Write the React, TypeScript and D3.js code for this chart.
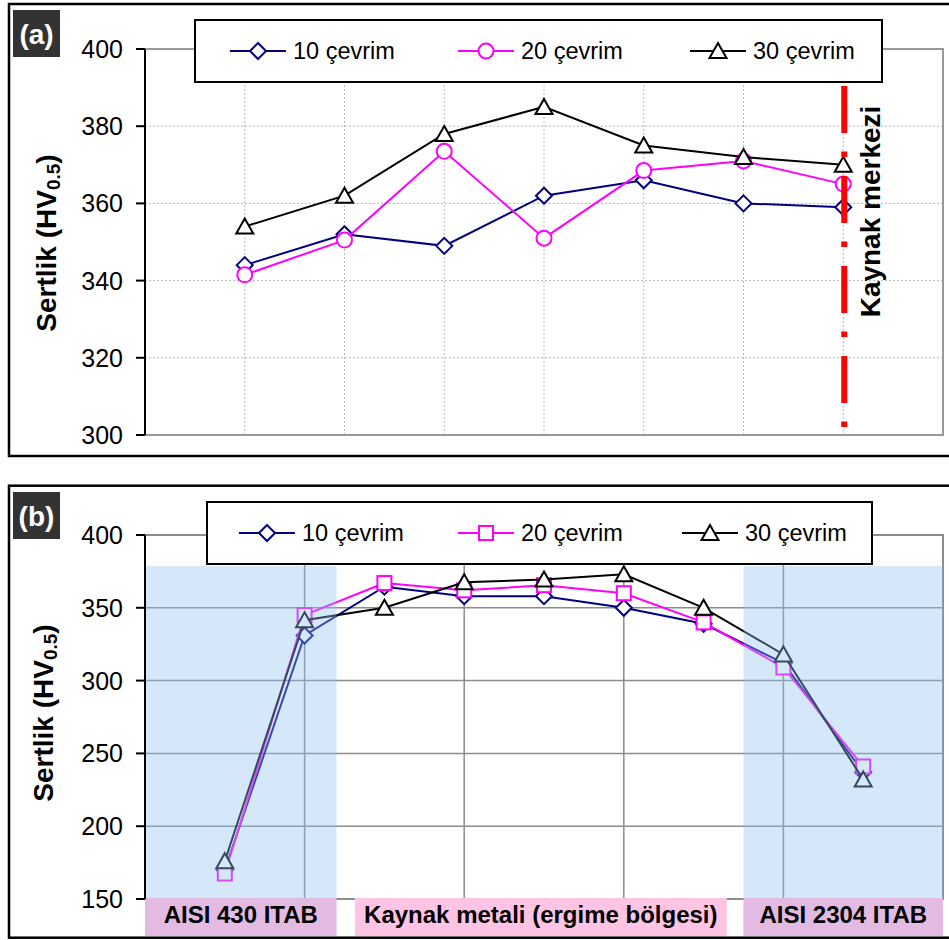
import React from 'react';
import * as d3 from 'd3';

// ---------- data ----------
const seriesNames = ['10 çevrim', '20 çevrim', '30 çevrim'];

const pointsA = [1, 2, 3, 4, 5, 6, 7];
const a10 = [344, 352, 349, 362, 366, 360, 359];
const a20 = [341.5, 350.5, 373.5, 351, 368.5, 371, 365];
const a30 = [354, 362, 378, 385, 375, 372, 370];
const yTicksA = [300, 320, 340, 360, 380, 400];

const pointsB = [1, 2, 3, 4, 5, 6, 7, 8, 9];
const b10 = [170, 331, 364.5, 358, 358, 350, 339, 312, 237];
const b20 = [167.5, 345, 367, 362, 365.5, 360, 340, 309, 241];
const b30 = [176, 341.5, 350, 367.5, 369.5, 373, 350, 318, 232];
const yTicksB = [150, 200, 250, 300, 350, 400];

const zoneLabels = ['AISI 430 ITAB', 'Kaynak metali (ergime bölgesi)', 'AISI 2304 ITAB'];
const weldCenterLabel = 'Kaynak merkezi';
const yLabelMain = 'Sertlik (HV';
const yLabelSub = '0.5';

const FONT = '"Liberation Sans", Arial, Helvetica, sans-serif';
const NAVY = '#000080';
const MAGENTA = '#ff00ff';
const BLACK = '#000000';

type MarkerType = 'diamond' | 'circle' | 'triangle' | 'square';

function Marker({ type, x, y, color }: { type: MarkerType; x: number; y: number; color: string }) {
  const common = { fill: '#ffffff', stroke: color, strokeWidth: 2 };
  if (type === 'diamond') {
    return <path d={`M${x},${y - 8}L${x + 8},${y}L${x},${y + 8}L${x - 8},${y}Z`} {...common} />;
  }
  if (type === 'circle') {
    return <circle cx={x} cy={y} r={7.5} {...common} />;
  }
  if (type === 'square') {
    return <rect x={x - 7} y={y - 7} width={14} height={14} {...common} />;
  }
  return <path d={`M${x},${y - 8}L${x + 8.5},${y + 7}L${x - 8.5},${y + 7}Z`} {...common} />;
}

function SeriesLine({ xs, ys, xScale, yScale, color, marker }: any) {
  const pts: [number, number][] = xs.map((v: number, i: number) => [xScale(v), yScale(ys[i])]);
  const line = d3.line()(pts) || '';
  return (
    <g>
      <path d={line} fill="none" stroke={color} strokeWidth={2} />
      {pts.map((p, i) => (
        <Marker key={i} type={marker} x={p[0]} y={p[1]} color={color} />
      ))}
    </g>
  );
}

function Legend({ box, items }: any) {
  const cy = (box.y0 + box.y1) / 2;
  return (
    <g>
      <rect x={box.x0} y={box.y0} width={box.x1 - box.x0} height={box.y1 - box.y0} fill="#fff" stroke="#000" strokeWidth={2} />
      {items.map((it: any, i: number) => (
        <g key={i}>
          <line x1={it.mx - 28} x2={it.mx + 28} y1={cy} y2={cy} stroke={it.color} strokeWidth={2} />
          <Marker type={it.marker} x={it.mx} y={cy} color={it.color} />
          <text x={it.mx + 35} y={cy} dy="0.36em" fontFamily={FONT} fontSize={23.5} fill="#000">
            {it.name}
          </text>
        </g>
      ))}
    </g>
  );
}

function YAxis({ yScale, ticks, left, bottom, top }: any) {
  return (
    <g>
      <line x1={left} x2={left} y1={top} y2={bottom} stroke="#000" strokeWidth={2} />
      {ticks.map((t: number) => (
        <g key={t}>
          <line x1={left - 9} x2={left} y1={yScale(t)} y2={yScale(t)} stroke="#000" strokeWidth={2} />
          <text x={123} y={yScale(t)} dy="0.36em" textAnchor="end" fontFamily={FONT} fontSize={25} fill="#000">
            {t}
          </text>
        </g>
      ))}
    </g>
  );
}

function YLabel({ x, y }: { x: number; y: number }) {
  return (
    <text transform={`translate(${x},${y}) rotate(-90)`} textAnchor="middle" fontFamily={FONT} fontSize={28} fontWeight="bold" fill="#000">
      <tspan>{yLabelMain}</tspan>
      <tspan fontSize={19} dy={4}>{yLabelSub}</tspan>
      <tspan dy={-4}>)</tspan>
    </text>
  );
}

function PanelTag({ y, label }: { y: number; label: string }) {
  return (
    <g>
      <rect x={13} y={y} width={47} height={47} fill="#333333" />
      <text x={36.5} y={y + 23.5} dy="0.36em" textAnchor="middle" fontFamily={FONT} fontSize={28} fontWeight="bold" fill="#fff">
        {label}
      </text>
    </g>
  );
}

function PanelA() {
  const L = 145, R = 943, T = 49, B = 435;
  const x = d3.scaleLinear().domain([0, 8]).range([L, R]);
  const y = d3.scaleLinear().domain([300, 400]).range([B, T]);
  const items = [
    { name: seriesNames[0], color: NAVY, marker: 'diamond', mx: 258 },
    { name: seriesNames[1], color: MAGENTA, marker: 'circle', mx: 486 },
    { name: seriesNames[2], color: BLACK, marker: 'triangle', mx: 718 },
  ];
  return (
    <g>
      <rect x={9} y={4} width={945} height={452} fill="#fff" stroke="#000" strokeWidth={2.5} />
      <PanelTag y={10} label="(a)" />
      {pointsA.map((p) => (
        <line key={'v' + p} x1={x(p)} x2={x(p)} y1={T} y2={B} stroke="#b8b8b8" strokeWidth={1} strokeDasharray="2 2" />
      ))}
      {yTicksA.slice(1, -1).map((t) => (
        <line key={'h' + t} x1={L} x2={R} y1={y(t)} y2={y(t)} stroke="#b8b8b8" strokeWidth={1} strokeDasharray="2 2" />
      ))}
      <path d={`M${L},${T}H${R}V${B}H${L}`} fill="none" stroke="#999" strokeWidth={2} />
      <SeriesLine xs={pointsA} ys={a10} xScale={x} yScale={y} color={NAVY} marker="diamond" />
      <SeriesLine xs={pointsA} ys={a20} xScale={x} yScale={y} color={MAGENTA} marker="circle" />
      <SeriesLine xs={pointsA} ys={a30} xScale={x} yScale={y} color={BLACK} marker="triangle" />
      <line x1={x(7) + 1} x2={x(7) + 1} y1={y(390.4)} y2={y(302)} stroke="#ff0000" strokeWidth={6} strokeDasharray="47 18.5 5.5 19" />
      <text transform={`translate(${880},${211.5}) rotate(-90)`} textAnchor="middle" fontFamily={FONT} fontSize={28} fontWeight="bold" fill="#000">
        {weldCenterLabel}
      </text>
      <YAxis yScale={y} ticks={yTicksA} left={L} top={T} bottom={B} />
      <YLabel x={56} y={243} />
      <Legend box={{ x0: 195, x1: 882, y0: 20, y1: 82 }} items={items} />
    </g>
  );
}

function PanelB() {
  const L = 145, R = 943, T = 535, B = 899;
  const x = d3.scaleLinear().domain([0, 10]).range([L, R]);
  const y = d3.scaleLinear().domain([150, 400]).range([B, T]);
  const items = [
    { name: seriesNames[0], color: NAVY, marker: 'diamond', mx: 267 },
    { name: seriesNames[1], color: MAGENTA, marker: 'square', mx: 486 },
    { name: seriesNames[2], color: BLACK, marker: 'triangle', mx: 710 },
  ];
  const shadeTop = y(378.7);
  const shadeBottom = 936;
  const gridX = [2, 4, 6, 8];
  return (
    <g>
      <rect x={9} y={485.7} width={945} height={452} fill="#fff" stroke="#000" strokeWidth={2.5} />
      <PanelTag y={492} label="(b)" />
      {gridX.map((p) => (
        <line key={'v' + p} x1={x(p)} x2={x(p)} y1={T} y2={B} stroke="#8c8c8c" strokeWidth={1.5} />
      ))}
      {yTicksB.slice(1, -1).map((t) => (
        <line key={'h' + t} x1={L} x2={R} y1={y(t)} y2={y(t)} stroke="#8c8c8c" strokeWidth={1.5} />
      ))}
      <path d={`M${L},${T}H${R}V${B}H${L}`} fill="none" stroke="#8c8c8c" strokeWidth={2} />
      <SeriesLine xs={pointsB} ys={b10} xScale={x} yScale={y} color={NAVY} marker="diamond" />
      <SeriesLine xs={pointsB} ys={b20} xScale={x} yScale={y} color={MAGENTA} marker="square" />
      <SeriesLine xs={pointsB} ys={b30} xScale={x} yScale={y} color={BLACK} marker="triangle" />
      <rect x={x(0)} y={shadeTop} width={x(2.4) - x(0)} height={shadeBottom - shadeTop} fill="rgb(145,195,242)" fillOpacity={0.38} />
      <rect x={x(7.5)} y={shadeTop} width={x(10) - x(7.5)} height={shadeBottom - shadeTop} fill="rgb(145,195,242)" fillOpacity={0.38} />
      <rect x={x(0)} y={898} width={x(2.4) - x(0)} height={38} fill="#e2bae2" />
      <rect x={x(2.63)} y={898} width={x(7.29) - x(2.63)} height={38} fill="#ffc4e4" />
      <rect x={x(7.5)} y={898} width={x(10) - x(7.5)} height={38} fill="#e2bae2" />
      <text x={(x(0) + x(2.4)) / 2} y={923} textAnchor="middle" fontFamily={FONT} fontSize={24} fontWeight="bold">{zoneLabels[0]}</text>
      <text x={(x(2.63) + x(7.29)) / 2} y={923} textAnchor="middle" fontFamily={FONT} fontSize={24} fontWeight="bold">{zoneLabels[1]}</text>
      <text x={(x(7.5) + x(10)) / 2} y={923} textAnchor="middle" fontFamily={FONT} fontSize={24} fontWeight="bold">{zoneLabels[2]}</text>
      <YAxis yScale={y} ticks={yTicksB} left={L} top={T} bottom={B} />
      <YLabel x={53} y={713} />
      <Legend box={{ x0: 207, x1: 872, y0: 502, y1: 564 }} items={items} />
    </g>
  );
}

export default function App() {
  return (
    <svg width={949} height={940} style={{ position: 'absolute', left: 0, top: 0, background: '#fff' }}>
      <rect x={0} y={0} width={949} height={940} fill="#fff" />
      <PanelA />
      <PanelB />
    </svg>
  );
}
